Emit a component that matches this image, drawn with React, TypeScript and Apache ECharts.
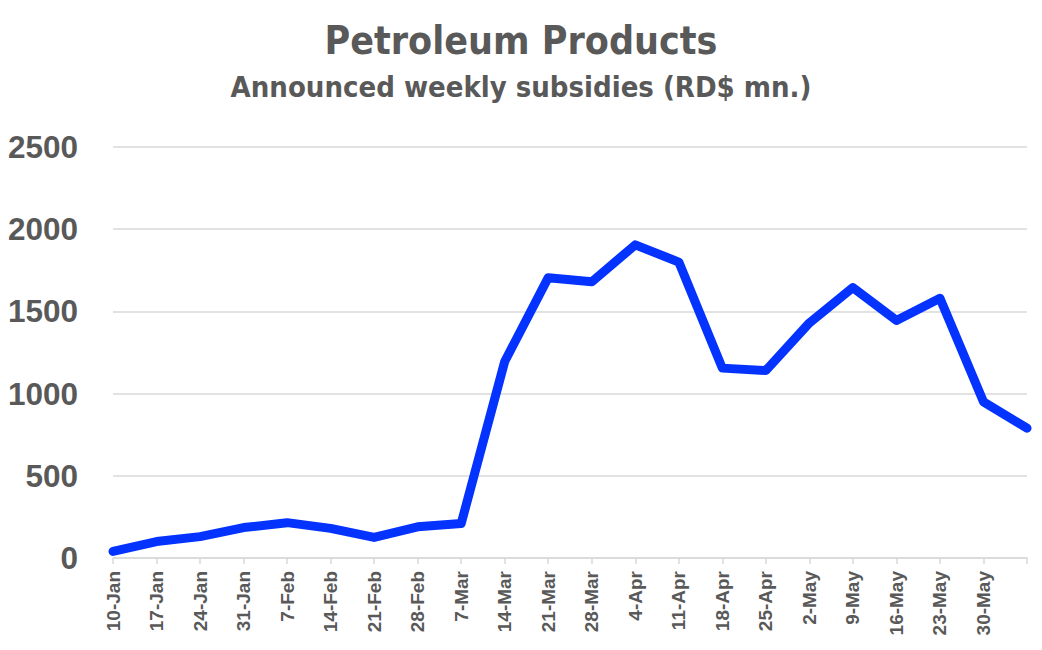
import React, { useEffect, useRef } from "react";
import * as echarts from "echarts";

const categories = [
  "10-Jan", "17-Jan", "24-Jan", "31-Jan", "7-Feb", "14-Feb", "21-Feb", "28-Feb",
  "7-Mar", "14-Mar", "21-Mar", "28-Mar", "4-Apr", "11-Apr", "18-Apr", "25-Apr",
  "2-May", "9-May", "16-May", "23-May", "30-May", "6-Jun",
];
const subsidies = [
  40, 100, 130, 185, 215, 180, 125, 190, 210, 1195, 1705, 1680, 1905, 1800,
  1155, 1140, 1430, 1645, 1445, 1580, 950, 790,
];
const yTicks = { min: 0, max: 2500, interval: 500 };
const titleText = "Petroleum Products";
const subtitleText = "Announced weekly subsidies (RD$ mn.)";

const narrow = "'Liberation Sans Narrow', 'DejaVu Sans Condensed', 'Arial Narrow', sans-serif";
const grey = "#595959";

export default function App() {
  const ref = useRef<HTMLDivElement>(null);
  useEffect(() => {
    if (!ref.current) return;
    const chart = echarts.init(ref.current, null, { renderer: "svg" });
    chart.setOption({
      animation: false,
      backgroundColor: "#ffffff",
      title: {
        text: titleText,
        subtext: subtitleText,
        left: "center",
        top: 16,
        itemGap: 12,
        textStyle: { fontFamily: narrow, fontWeight: "bold", fontSize: 39, color: grey },
        subtextStyle: { fontFamily: narrow, fontWeight: "bold", fontSize: 29, color: grey },
      },
      grid: { left: 113, right: 15, top: 147, bottom: 92, containLabel: false },
      xAxis: {
        type: "category",
        data: categories,
        boundaryGap: false,
        axisLine: { lineStyle: { color: "#d9d9d9", width: 1.5 } },
        axisTick: { show: true, interval: 0, length: 6, lineStyle: { color: "#d9d9d9", width: 1.5 } },
        axisLabel: {
          interval: (i: number) => i < categories.length - 1,
          rotate: 90,
          fontFamily: "'Liberation Sans', Arial, sans-serif",
          fontWeight: "bold",
          fontSize: 19,
          color: grey,
          margin: 13,
        },
        splitLine: { show: false },
      },
      yAxis: {
        type: "value",
        min: yTicks.min,
        max: yTicks.max,
        interval: yTicks.interval,
        axisLine: { show: false },
        axisTick: { show: false },
        axisLabel: {
          formatter: (v: number) => String(v),
          fontFamily: "'Liberation Sans', Arial, sans-serif",
          fontWeight: "bold",
          fontSize: 31.5,
          color: grey,
          margin: 35,
        },
        splitLine: { lineStyle: { color: "#d9d9d9", width: 1.5 } },
      },
      series: [
        {
          type: "line",
          data: subsidies,
          symbol: "none",
          lineStyle: { color: "#0433ff", width: 9, cap: "round", join: "round" },
        },
      ],
    });
    return () => chart.dispose();
  }, []);
  return (
    <div
      ref={ref}
      style={{ position: "absolute", left: 0, top: 0, width: 1042, height: 650 }}
    />
  );
}
